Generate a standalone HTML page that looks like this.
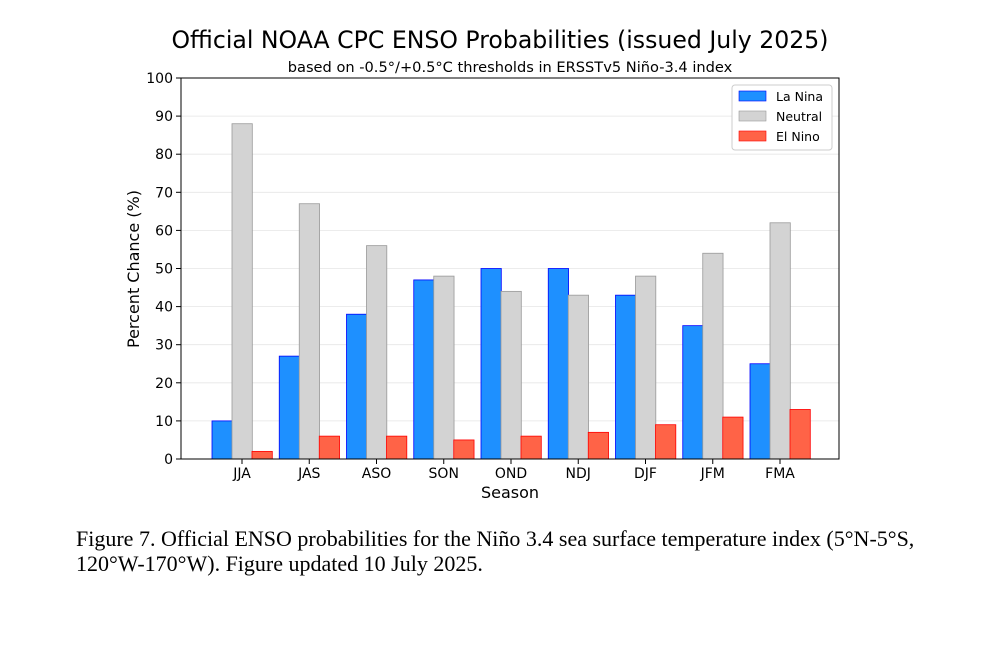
<!DOCTYPE html>
<html><head><meta charset="utf-8"><style>
body{margin:0;background:#fff;}
.s{font-family:"DejaVu Sans","Liberation Sans",sans-serif;}
.cap{font-family:"Liberation Serif",serif;}
</style></head><body>
<svg width="1000" height="647" xmlns="http://www.w3.org/2000/svg">
<text class="s" x="500" y="48" text-anchor="middle" font-size="23.6" fill="#000">Official NOAA CPC ENSO Probabilities (issued July 2025)</text>
<text class="s" x="510" y="72" text-anchor="middle" font-size="14.6" fill="#000">based on -0.5°/+0.5°C thresholds in ERSSTv5 Niño-3.4 index</text>
<g id="grid"></g>
<g id="bars"></g>
<rect x="181" y="78" width="658" height="381" fill="none" stroke="#000" stroke-width="1"/>
<g id="axes"></g>
<text class="s" x="510" y="498" text-anchor="middle" font-size="16">Season</text>
<text class="s" transform="translate(139,269) rotate(-90)" text-anchor="middle" font-size="16">Percent Chance (%)</text>
<g>
<rect x="732" y="85" width="100" height="65" fill="#fff" stroke="#ccc" rx="3"/>
<rect x="739" y="91" width="27" height="10" fill="#1e90ff" stroke="#0000ff" stroke-width="0.6"/>
<text class="s" x="776" y="101" font-size="12.5">La Nina</text>
<rect x="739" y="111" width="27" height="10" fill="#d3d3d3" stroke="#999" stroke-width="0.6"/>
<text class="s" x="776" y="121" font-size="12.5">Neutral</text>
<rect x="739" y="131" width="27" height="10" fill="#ff6347" stroke="#ff0000" stroke-width="0.6"/>
<text class="s" x="776" y="141" font-size="12.5">El Nino</text>
</g>
<text class="cap" x="76" y="546" font-size="22">Figure 7. Official ENSO probabilities for the Niño 3.4 sea surface temperature index (5°N-5°S,</text>
<text class="cap" x="76" y="571" font-size="22">120°W-170°W). Figure updated 10 July 2025.</text>
</svg>
<script>
const seasons=["JJA","JAS","ASO","SON","OND","NDJ","DJF","JFM","FMA"];
const laNina=[10,27,38,47,50,50,43,35,25];
const neutral=[88,67,56,48,44,43,48,54,62];
const elNino=[2,6,6,5,6,7,9,11,13];
const yTicks=[0,10,20,30,40,50,60,70,80,90,100];
const NS="http://www.w3.org/2000/svg";
const y=v=>459-v*3.81;
const x=i=>242+i*67.25;
const grid=document.getElementById('grid'),bars=document.getElementById('bars'),axes=document.getElementById('axes');
function mk(tag,attrs,parent){const e=document.createElementNS(NS,tag);for(const k in attrs)e.setAttribute(k,attrs[k]);parent.appendChild(e);return e;}
yTicks.forEach(t=>{
 const g=mk('line',{x1:181,x2:839,y1:y(t),y2:y(t),stroke:'#e6e6e6','stroke-width':0.8},grid);
 
 
 const tk=mk('line',{x1:176,x2:181,y1:y(t),y2:y(t),stroke:'#000'},axes);
 
 
 const tx=mk('text',{x:173,y:y(t)+5,'text-anchor':'end','font-size':14,'class':'s'},axes);
 tx.textContent=t;
 
 
});
const series=[[laNina,'#1e90ff','#0000ff',-30,'la-nina'],[neutral,'#d3d3d3','#999',-10,'neutral'],[elNino,'#ff6347','#ff0000',10,'el-nino']];
seasons.forEach((s,i)=>{
 series.forEach(([d,f,st,off,n])=>{
  const r=mk('rect',{x:x(i)+off,y:y(d[i]),width:20.3,height:d[i]*3.81,fill:f,stroke:st,'stroke-width':0.8},bars);
  
  
 });
 const tk=mk('line',{x1:x(i),x2:x(i),y1:459,y2:464,stroke:'#000'},axes);
 
 
 const tx=mk('text',{x:x(i),y:478,'text-anchor':'middle','font-size':14,'class':'s'},axes);
 tx.textContent=s;
 
 
});
</script>
</body></html>
